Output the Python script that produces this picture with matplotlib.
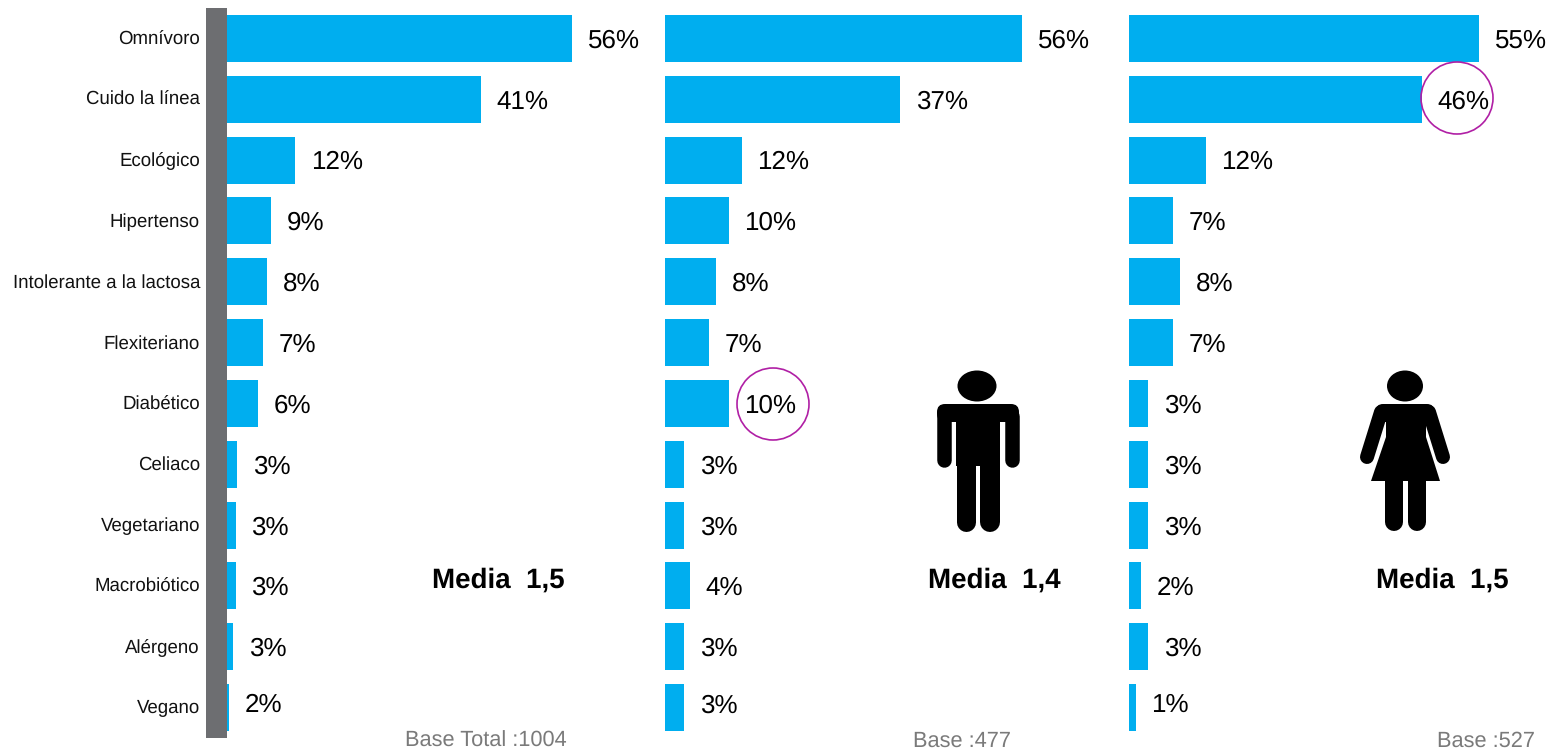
import matplotlib
matplotlib.use('Agg')
import matplotlib.pyplot as plt
from matplotlib.patches import Ellipse, FancyBboxPatch, Polygon

plt.rcParams['font.family'] = ['Liberation Sans', 'DejaVu Sans']
plt.rcParams['text.hinting'] = 'no_hinting'

categories = ['Omnívoro', 'Cuido la línea', 'Ecológico', 'Hipertenso', 'Intolerante a la lactosa',
              'Flexiteriano', 'Diabético', 'Celiaco', 'Vegetariano', 'Macrobiótico', 'Alérgeno', 'Vegano']
# bar lengths are slightly off the rounded labels, as in the source chart
total = [54.2, 39.9, 10.7, 6.9, 6.3, 5.7, 4.9, 1.6, 1.4, 1.4, 1.0, 0.3]
men = [56.2, 37.0, 12.1, 10.1, 8.1, 7.0, 10.1, 3.1, 3.1, 4.0, 3.1, 3.1]
women = [55.1, 46.0, 12.1, 7.0, 8.1, 7.0, 3.1, 3.1, 3.1, 2.0, 3.1, 1.1]
total_labels = ['56%', '41%', '12%', '9%', '8%', '7%', '6%', '3%', '3%', '3%', '3%', '2%']
men_labels = ['56%', '37%', '12%', '10%', '8%', '7%', '10%', '3%', '3%', '4%', '3%', '3%']
women_labels = ['55%', '46%', '12%', '7%', '8%', '7%', '3%', '3%', '3%', '2%', '3%', '1%']

W, H = 1552, 752
BLUE = '#00AEEF'
PX_PER_UNIT = 6.37  # all three panels share this scale
ROW_PX = 60.83


def add_axes_px(fig, x0, x1, y0, y1):
    return fig.add_axes([x0 / W, 1 - y1 / H, (x1 - x0) / W, (y1 - y0) / H])


def draw_panel(ax, values, labels):
    y = list(range(len(values)))
    ax.barh(y, values, height=0.77, color=BLUE, linewidth=0)
    for i, (v, lab) in enumerate(zip(values, labels)):
        # last row label sits a bit higher than its bar in the source
        dy = -2 / ROW_PX if i == len(values) - 1 else 2.5 / ROW_PX
        ax.text(v + 15.5 / PX_PER_UNIT, i + dy, lab, va='center', ha='left', fontsize=18.7)
    ax.set_ylim(len(values) - 0.5, -0.5)
    ax.set_xlim(0, 420 / PX_PER_UNIT)
    ax.axis('off')


fig = plt.figure(figsize=(W / 100, H / 100), dpi=100)

# full-figure overlay in pixel coordinates for the annotations
ov = fig.add_axes([0, 0, 1, 1], zorder=5)
ov.set_xlim(0, W)
ov.set_ylim(H, 0)
ov.axis('off')
ov.patch.set_alpha(0)

panels = [(227, total, total_labels), (664.5, men, men_labels), (1128.5, women, women_labels)]
for x0, vals, labs in panels:
    ax = add_axes_px(fig, x0, x0 + 420, 8, 738)
    draw_panel(ax, vals, labs)

# grey spine and category labels
ov.add_patch(plt.Rectangle((206, 8), 21, 730, color='#6D6E71', linewidth=0))
for i, c in enumerate(categories):
    ov.text(200, 39.5 + i * ROW_PX, c, ha='right', va='center', fontsize=13.4, color='#111111')

for x, t in [(498, 'Media  1,5'), (994, 'Media  1,4'), (1442, 'Media  1,5')]:
    ov.text(x, 580, t, ha='center', va='center', fontsize=20, fontweight='bold')
for x, t in [(486, 'Base Total :1004'), (962, 'Base :477'), (1486, 'Base :527')]:
    ov.text(x, 741, t, ha='center', va='center', fontsize=15.7, color='#7A7A7A')

# highlight circles
ov.add_patch(Ellipse((773, 404), 72, 72, fill=False, edgecolor='#B01FA5', linewidth=1.2))
ov.add_patch(Ellipse((1457, 98), 72, 72, fill=False, edgecolor='#B01FA5', linewidth=1.2))


def rbox(x, y, w, h, r=6):
    ov.add_patch(FancyBboxPatch((x + r, y + r), w - 2 * r, h - 2 * r,
                                boxstyle='round,pad=%d' % r, color='black', linewidth=0))


def limb(xs, ys, width_px):
    ov.plot(xs, ys, color='black', lw=width_px * 0.72, solid_capstyle='round')


# man icon
ov.add_patch(Ellipse((977, 386), 39, 31, color='black', linewidth=0))
rbox(937, 404, 82, 18, r=8)
limb([944, 944], [416, 459.5], 14.5)
limb([1011.5, 1011.5], [416, 459.5], 14.5)
ov.add_patch(plt.Rectangle((956, 410), 44, 56, color='black', linewidth=0))
limb([965.5, 965.5], [450, 521.5], 19)
limb([990, 990], [450, 521.5], 20)

# woman icon
ov.add_patch(Ellipse((1405, 386), 36, 31, color='black', linewidth=0))
rbox(1376, 404, 58, 18, r=7)
ov.add_patch(Polygon([(1386, 410), (1426, 410), (1426, 437), (1440, 481), (1371, 481), (1386, 437)],
                     color='black', linewidth=0))
limb([1381, 1367], [412, 457], 14)
limb([1429, 1443], [412, 457], 14)
limb([1394, 1394], [475, 522], 18)
limb([1417, 1417], [475, 522], 18)

fig.savefig('out.png', dpi=100)
